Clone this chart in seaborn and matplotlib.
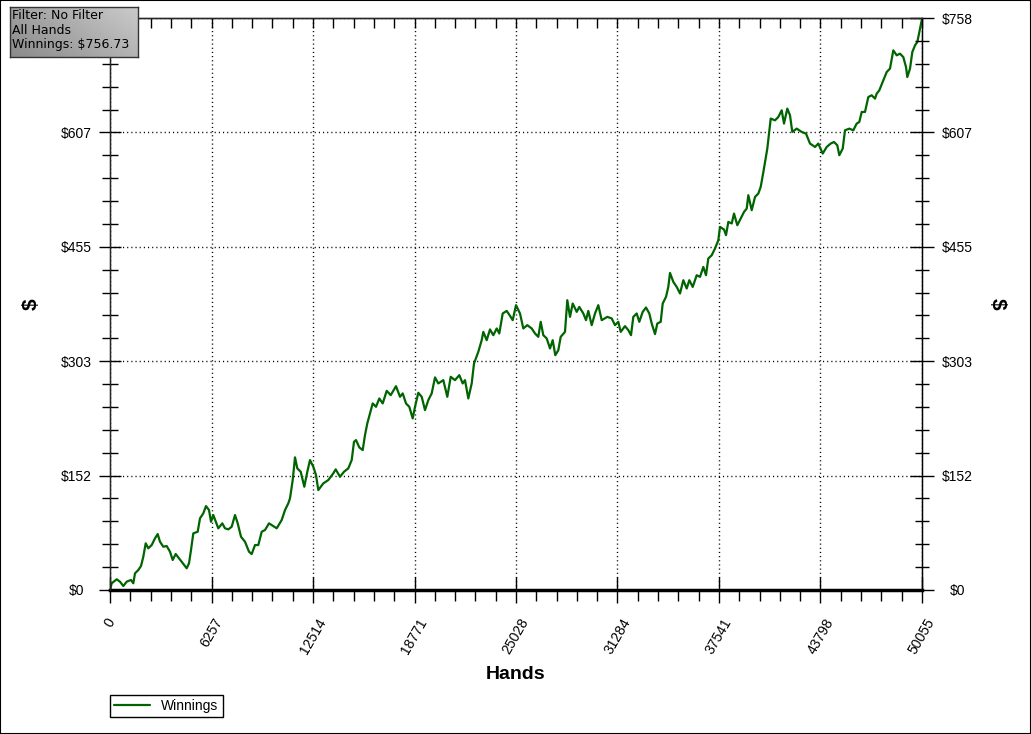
import numpy as np
import pandas as pd
import matplotlib.pyplot as plt
import seaborn as sns
from matplotlib.ticker import FixedLocator
from matplotlib.colors import LinearSegmentedColormap

# datos (manos jugadas vs ganancias en $)
hands = [0, 105, 413, 616, 820, 1029, 1295, 1436, 1541, 1745,
         1911, 2053, 2201, 2361, 2571, 2774, 2940, 3082, 3286, 3495,
         3699, 3865, 4050, 4254, 4457, 4728, 4870, 4993, 5135, 5406,
         5548, 5751, 5918, 6103, 6226, 6368, 6676, 6923, 7089, 7293,
         7502, 7706, 7872, 8076, 8322, 8569, 8735, 8939, 9142, 9352,
         9555, 9802, 10067, 10276, 10584, 10788, 10991, 11096, 11263, 11404,
         11546, 11756, 11978, 12163, 12329, 12533, 12699, 12841, 13149, 13457,
         13765, 13913, 14178, 14425, 14690, 14900, 15041, 15165, 15368, 15578,
         15719, 15861, 16028, 16194, 16398, 16601, 16811, 17057, 17304, 17630,
         17877, 18043, 18247, 18450, 18660, 18802, 19005, 19215, 19418, 19622,
         19831, 20035, 20238, 20546, 20793, 21003, 21268, 21533, 21742, 21884,
         22087, 22297, 22439, 22704, 22913, 23012, 23221, 23425, 23628, 23838,
         23998, 24208, 24454, 24701, 24824, 25028, 25274, 25478, 25724, 25996,
         26199, 26402, 26550, 26711, 26920, 27124, 27290, 27451, 27636, 27783,
         28048, 28190, 28357, 28523, 28770, 28930, 29177, 29343, 29485, 29694,
         29898, 30101, 30311, 30656, 30927, 31131, 31334, 31482, 31747, 31950,
         32117, 32259, 32468, 32628, 32838, 33042, 33245, 33393, 33597, 33738,
         33948, 34071, 34275, 34416, 34521, 34725, 34934, 35138, 35341, 35551,
         35711, 35921, 36167, 36371, 36574, 36740, 36882, 37092, 37295, 37499,
         37603, 37851, 37974, 38116, 38325, 38467, 38670, 38880, 39083, 39250,
         39348, 39558, 39761, 39965, 40112, 40273, 40519, 40729, 40993, 41197,
         41406, 41548, 41752, 41918, 42060, 42331, 42640, 42905, 43152, 43460,
         43663, 43934, 44181, 44427, 44631, 44834, 44957, 45167, 45309, 45574,
         45820, 46030, 46190, 46338, 46541, 46745, 46954, 47158, 47262, 47423,
         47632, 47879, 48082, 48286, 48495, 48699, 48902, 49069, 49149, 49316,
         49458, 49624, 49766, 49889, 50037, 50055]

winnings = [0, 8.9, 14.2, 11.0, 5.3, 11.0, 13.3, 8.9, 22.1, 26.5,
            31.8, 44.1, 61.9, 55.3, 59.6, 68.5, 74.2, 64.0, 57.4, 58.3,
            50.8, 39.8, 47.7, 42.0, 36.2, 28.8, 35.4, 53.0, 75.1, 77.3,
            95.0, 101.6, 111.3, 106.0, 90.5, 99.4, 81.8, 88.4, 81.8, 80.4,
            83.9, 99.4, 88.4, 70.6, 64.0, 50.8, 47.7, 59.6, 59.6, 77.3,
            79.5, 88.4, 84.8, 81.8, 92.8, 106.0, 114.9, 121.5, 145.8, 175.9,
            161.3, 156.8, 136.9, 156.8, 172.3, 163.4, 152.4, 132.5, 141.4, 145.8,
            154.7, 160.0, 150.1, 156.8, 161.3, 172.3, 196.5, 198.8, 189.1, 185.5,
            205.4, 220.9, 234.2, 247.4, 242.9, 254.0, 247.4, 264.1, 258.4, 270.3,
            256.2, 260.7, 247.4, 242.9, 227.5, 242.9, 261.5, 256.2, 238.5, 251.8,
            260.7, 281.9, 273.9, 278.3, 256.2, 282.7, 278.3, 284.9, 273.9, 278.3,
            254.0, 273.9, 300.4, 315.8, 331.3, 342.3, 331.3, 345.5, 337.9, 346.8,
            340.2, 366.7, 370.1, 362.2, 357.8, 377.7, 366.7, 346.8, 351.2, 346.8,
            340.2, 335.7, 355.6, 337.9, 333.6, 320.3, 331.3, 311.4, 318.0, 335.7,
            342.3, 384.3, 362.2, 379.9, 368.8, 375.4, 366.7, 357.8, 370.1, 351.2,
            366.7, 377.7, 357.8, 362.2, 360.1, 351.2, 355.6, 342.3, 349.9, 344.6,
            337.9, 362.2, 366.7, 355.6, 368.8, 374.6, 366.7, 353.4, 339.3, 353.4,
            355.6, 379.9, 388.7, 401.9, 420.5, 408.6, 401.9, 393.2, 410.8, 399.8,
            410.8, 401.9, 417.4, 415.2, 428.4, 417.4, 439.6, 443.9, 452.8, 463.8,
            481.5, 478.0, 470.5, 488.1, 486.0, 499.2, 483.7, 492.6, 501.3, 505.8,
            523.5, 503.6, 521.2, 525.7, 534.5, 553.9, 585.3, 625.1, 622.8, 627.2,
            636.1, 618.5, 638.4, 629.5, 607.4, 611.8, 607.4, 605.2, 592.0, 587.5,
            592.0, 578.7, 587.5, 592.0, 594.1, 589.7, 576.5, 585.3, 609.6, 611.8,
            609.6, 618.5, 620.6, 633.9, 633.9, 653.7, 656.0, 651.6, 658.2, 662.6,
            673.6, 686.9, 691.4, 715.6, 709.0, 711.2, 706.7, 693.5, 680.2, 691.4,
            713.4, 722.2, 726.6, 739.9, 755.4, 756.73]

x_ticks = [0, 6257, 12514, 18771, 25028, 31284, 37541, 43798, 50055]
y_ticks = [0, 151.7, 303.4, 455.1, 606.8, 758.5]
y_labels = ["$0", "$152", "$303", "$455", "$607", "$758"]
info_lines = ["Filter: No Filter", "All Hands", "Winnings: $756.73"]

df = pd.DataFrame({"Hands": hands, "Winnings": winnings})

sns.set_style("white")
plt.rcParams["font.family"] = ["Liberation Sans", "DejaVu Sans"]
plt.rcParams["text.color"] = "black"
plt.rcParams["axes.labelcolor"] = "black"

W, H = 1031, 734
fig = plt.figure(figsize=(W / 100, H / 100), dpi=100)
ax = fig.add_axes([110 / W, 1 - 590 / H, 812 / W, 572 / H])

sns.lineplot(data=df, x="Hands", y="Winnings", ax=ax, color="#006400",
             linewidth=1.6, label="Winnings", legend=False)

ax.set_xlim(0, 50055)
ax.set_ylim(0, 758.5)

# ticks eje x (abajo)
ax.set_xticks(x_ticks)
ax.set_xticklabels([str(t) for t in x_ticks], rotation=60, ha="center")
ax.xaxis.set_minor_locator(FixedLocator(np.linspace(0, 50055, 41)))
ax.tick_params(axis="x", which="major", direction="inout", length=19, width=1,
               colors="black", labelsize=10, pad=9, bottom=True, top=False)
ax.tick_params(axis="x", which="minor", direction="out", length=8, width=1,
               colors="black", bottom=True, top=False)

# ticks eje y (izquierda)
ax.set_yticks(y_ticks)
ax.set_yticklabels(y_labels)
ax.yaxis.set_minor_locator(FixedLocator(np.linspace(0, 758.5, 26)))
ax.tick_params(axis="y", which="major", direction="inout", length=16, width=1,
               colors="black", labelsize=10, pad=16, left=True)
ax.tick_params(axis="y", which="minor", direction="inout", length=12, width=1,
               colors="black", left=True)
for lbl in ax.get_yticklabels():
    lbl.set_ha("center")

ax.grid(True, which="major", color="black", linestyle=(0, (0.8, 2.2)), linewidth=1)

for side in ["left", "right", "top"]:
    ax.spines[side].set_color("black")
    ax.spines[side].set_linewidth(1)
ax.spines["bottom"].set_color("black")
ax.spines["bottom"].set_linewidth(2.5)

ax.set_xlabel("Hands", fontsize=14, fontweight="bold", color="black")
ax.xaxis.set_label_coords(0.5, -0.147)
ax.xaxis.label.set_va("center")
ax.set_ylabel("$", fontsize=15, fontweight="bold", color="black")
ax.yaxis.set_label_coords(-0.0973, 0.5)
ax.yaxis.label.set_va("center")

# eje derecho
ax2 = ax.twinx()
ax2.set_ylim(0, 758.5)
ax2.set_yticks(y_ticks)
ax2.set_yticklabels(y_labels)
ax2.yaxis.set_minor_locator(FixedLocator(np.linspace(0, 758.5, 26)))
ax2.tick_params(axis="y", which="major", direction="inout", length=17, width=1,
                colors="black", labelsize=10, pad=17, right=True)
ax2.tick_params(axis="y", which="minor", direction="inout", length=10, width=1,
                colors="black", right=True)
for lbl in ax2.get_yticklabels():
    lbl.set_ha("center")
ax2.spines["bottom"].set_visible(False)
ax2.spines["right"].set_color("black")
ax2.set_ylabel("$", fontsize=15, fontweight="bold", rotation=270, color="black")
ax2.yaxis.set_label_coords(1.0924, 0.5)
ax2.yaxis.label.set_va("center")

# eje de arriba, solo ticks hacia dentro
top = ax.secondary_xaxis("top")
top.set_xticks(x_ticks)
top.xaxis.set_minor_locator(FixedLocator(np.linspace(0, 50055, 41)))
top.tick_params(axis="x", which="both", direction="in", length=7, width=1,
                colors="black", labeltop=False)
top.spines["top"].set_color("black")

# leyenda abajo
handles, labels = ax.get_legend_handles_labels()
leg = fig.legend(handles, labels, loc="upper left", bbox_to_anchor=(110 / W, 1 - 695 / H),
                 borderaxespad=0, frameon=True, fancybox=False, edgecolor="black",
                 framealpha=1, fontsize=10, handlelength=2.6, borderpad=0.3,
                 handletextpad=0.8)
leg.get_frame().set_linewidth(1)

# cuadro de info arriba a la izquierda
box = fig.add_axes([10 / W, 1 - 57 / H, 128 / W, 50 / H])
gx, gy = np.meshgrid(np.linspace(0, 1, 128), np.linspace(0, 1, 50))
grad = 0.65 * gx + 0.35 * gy
cmap = LinearSegmentedColormap.from_list("gris", ["#8a8a8a", "#cacaca"])
box.imshow(grad, cmap=cmap, aspect="auto", extent=[0, 1, 0, 1], origin="lower")
box.set_xticks([])
box.set_yticks([])
for s in box.spines.values():
    s.set_color("#333333")
    s.set_linewidth(1)
box.text(0.015, 0.96, "\n".join(info_lines), transform=box.transAxes,
         ha="left", va="top", fontsize=9, family="DejaVu Sans",
         linespacing=1.15, color="black")

fig.add_artist(plt.Rectangle((0, 0), 1, 1, transform=fig.transFigure,
                             fill=False, edgecolor="black", linewidth=1.5))

fig.savefig("out.png", dpi=100)
